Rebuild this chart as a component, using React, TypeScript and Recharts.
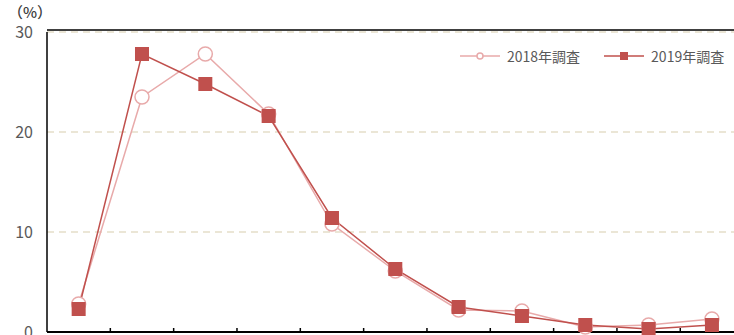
import React from "react";
import {
  LineChart,
  Line,
  XAxis,
  YAxis,
  CartesianGrid,
  ReferenceLine,
} from "recharts";

// 11 categories (labels sit below the visible area)
const categories = ["1", "2", "3", "4", "5", "6", "7", "8", "9", "10", "11"];
const survey2018 = [2.8, 23.5, 27.8, 21.8, 10.8, 6.1, 2.2, 2.1, 0.5, 0.7, 1.3];
const survey2019 = [2.3, 27.8, 24.8, 21.6, 11.4, 6.3, 2.5, 1.6, 0.7, 0.3, 0.7];
const yTicks = [0, 10, 20, 30];
const xBounds = [1, 2, 3, 4, 5, 6, 7, 8, 9, 10];

const data = categories.map((name, i) => ({
  name,
  x: i + 0.5,
  y2018: survey2018[i],
  y2019: survey2019[i],
}));

const RED = "#c0504d";
const PINK = "#e8aaaa";
const TEXT = "#595959";
const FONT = "'Noto Sans CJK JP', sans-serif";

const SquareDot = (props: any) => {
  const { cx, cy } = props;
  if (cx == null || cy == null) return <g />;
  return <rect x={cx - 7} y={cy - 7} width={14} height={14} fill={RED} />;
};

const CircleDot = (props: any) => {
  const { cx, cy } = props;
  if (cx == null || cy == null) return <g />;
  return <circle cx={cx} cy={cy} r={7} fill="#fff" stroke={PINK} strokeWidth={1.5} />;
};

const ChartLegend = () => (
  <div
    style={{
      position: "absolute",
      left: 460,
      top: 46,
      display: "flex",
      alignItems: "center",
      fontSize: 14,
      color: TEXT,
      fontFamily: FONT,
    }}
  >
    <svg width={40} height={10}>
      <line x1={0} y1={5} x2={40} y2={5} stroke={PINK} strokeWidth={1.5} />
      <circle cx={20} cy={5} r={3} fill="#fff" stroke={PINK} strokeWidth={1.5} />
    </svg>
    <span style={{ marginLeft: 7 }}>2018年調査</span>
    <svg width={40} height={10} style={{ marginLeft: 24 }}>
      <line x1={0} y1={5} x2={40} y2={5} stroke={RED} strokeWidth={1.5} />
      <rect x={16} y={1} width={8} height={8} fill={RED} />
    </svg>
    <span style={{ marginLeft: 7 }}>2019年調査</span>
  </div>
);

const App = () => {
  return (
    <div style={{ position: "relative", width: 734, height: 335, overflow: "hidden" }}>
      <style>{"body{margin:0;overflow:hidden}"}</style>
      <LineChart
        width={760}
        height={360}
        data={data}
        margin={{ top: 32, right: 16.4, bottom: 0, left: 0 }}
        style={{ fontFamily: FONT }}
      >
        <CartesianGrid
          vertical={false}
          horizontalValues={[10, 20, 30]}
          stroke="#ebe6d6"
          strokeWidth={2}
          strokeDasharray="7 5"
        />
        <XAxis
          dataKey="x"
          type="number"
          domain={[0, 11]}
          ticks={xBounds}
          height={28}
          axisLine={{ stroke: "#000", strokeWidth: 2 }}
          tickLine={{ stroke: "#000", strokeWidth: 1.5 }}
          tickSize={-4}
          tick={() => <g />}
        />
        <YAxis
          domain={[0, 30]}
          ticks={yTicks}
          width={47}
          axisLine={{ stroke: "#000", strokeWidth: 1.5 }}
          tickLine={false}
          tickSize={0}
          tickMargin={14}
          tick={{ fill: TEXT, fontSize: 16 }}
        />
        <ReferenceLine y={30.2} ifOverflow="visible" stroke="#000" strokeWidth={1.5} />
        <Line
          dataKey="y2018"
          stroke={PINK}
          strokeWidth={1.5}
          dot={<CircleDot />}
          activeDot={false}
          isAnimationActive={false}
        />
        <Line
          dataKey="y2019"
          stroke={RED}
          strokeWidth={1.5}
          dot={<SquareDot />}
          activeDot={false}
          isAnimationActive={false}
        />
      </LineChart>
      <div
        style={{
          position: "absolute",
          left: 8,
          top: 4,
          fontSize: 15,
          fontWeight: 500,
          lineHeight: "16px",
          color: "#404040",
          fontFamily: FONT,
        }}
      >
        （%）
      </div>
      <ChartLegend />
    </div>
  );
};

export default App;
